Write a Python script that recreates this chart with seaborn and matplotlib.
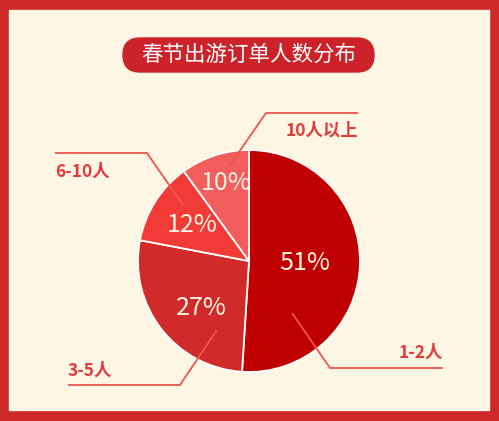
import matplotlib
matplotlib.use('Agg')
import matplotlib.pyplot as plt
import seaborn as sns
import numpy as np
from matplotlib.patches import Rectangle, FancyBboxPatch

# data
groups = ['1-2人', '3-5人', '6-10人', '10人以上']
shares = [51, 27, 12, 10]
title = '春节出游订单人数分布'

wedge_colors = ['#C00000', '#D12A2A', '#F23A36', '#F35D5B']
frame_red = '#CF2A2A'
cream = '#FDF6E5'
label_red = '#E03C3C'
line_red = '#EA5550'
pct_color = '#FDF3E3'

sns.set_theme(style='white')
plt.rcParams['font.family'] = ['Noto Sans CJK SC', 'DejaVu Sans']

W, H = 499, 421
fig = plt.figure(figsize=(W / 100, H / 100), dpi=100)
ax = fig.add_axes([0, 0, 1, 1])
ax.set_xlim(0, W)
ax.set_ylim(0, H)
ax.set_aspect('equal')
ax.axis('off')

# frame and cream panel
ax.add_patch(Rectangle((0, 0), W, H, color=frame_red, zorder=0))
ax.add_patch(Rectangle((9, 11), 480, 400, color=cream, zorder=0.5))

# title pill
ax.add_patch(FancyBboxPatch((123, 349), 251, 34,
                            boxstyle='round,pad=0,rounding_size=17',
                            color='#CC2229', zorder=1))
ax.text(248.5, 366, title, color='white', fontsize=15.5, fontweight='medium',
        ha='center', va='center', zorder=2)

# pie
cx, cy, r = 249, 160, 111
wedges, _ = ax.pie(shares, colors=wedge_colors, startangle=90, counterclock=False,
                   center=(cx, cy), radius=r, frame=True,
                   wedgeprops=dict(edgecolor='white', linewidth=1.3))
ax.set_xlim(0, W)
ax.set_ylim(0, H)
ax.axis('off')

# percent labels inside wedges
pct_dist = [0.50, 0.60, 0.61, 0.73]
pct_shift = [0, 7, 0, -2]
for w, s, d, sh in zip(wedges, shares, pct_dist, pct_shift):
    a = np.deg2rad((w.theta1 + w.theta2) / 2 + sh)
    ax.text(cx + d * r * np.cos(a), cy + d * r * np.sin(a), f'{s}%',
            color=pct_color, fontsize=18, ha='center', va='center', zorder=3)

# leader lines: start (angle, radius fraction), elbow, end; label position
leaders = {
    '1-2人':   dict(start=(-50.4, 0.61), elbow=(330, 53), end=(443, 53),
                   text=(443, 68), ha='right'),
    '3-5人':   dict(start=(245, 0.69), elbow=(180, 36), end=(68, 36),
                   text=(68, 50), ha='left'),
    '6-10人':  dict(start=(139.7, 0.78), elbow=(147, 268), end=(55, 268),
                   text=(55, 249), ha='left'),
    '10人以上': dict(start=(102, 0.87), elbow=(266, 308), end=(358, 308),
                   text=(358, 291), ha='right'),
}
for g in groups:
    p = leaders[g]
    ang, frac = p['start']
    a = np.deg2rad(ang)
    sx, sy = cx + frac * r * np.cos(a), cy + frac * r * np.sin(a)
    ax.plot([sx, p['elbow'][0], p['end'][0]], [sy, p['elbow'][1], p['end'][1]],
            color=line_red, lw=1.3, zorder=4, solid_capstyle='butt')
    ax.text(p['text'][0], p['text'][1], g, color=label_red, fontsize=12.5,
            fontweight='bold', ha=p['ha'], va='center', zorder=4)

fig.savefig('out.png', dpi=100)
